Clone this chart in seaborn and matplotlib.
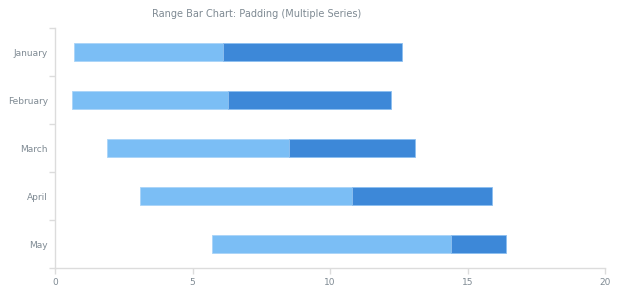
import matplotlib
matplotlib.use("Agg")
import matplotlib.pyplot as plt
import seaborn as sns
import pandas as pd
import numpy as np

months = ["January", "February", "March", "April", "May"]
s1_low = [0.7, 0.6, 1.9, 3.1, 5.7]
s1_high = [6.1, 6.3, 8.5, 10.8, 14.4]
s2_low = [6.1, 6.3, 8.5, 10.8, 14.4]
s2_high = [12.6, 12.2, 13.1, 15.9, 16.4]
x_ticks = [0, 5, 10, 15, 20]
title = "Range Bar Chart: Padding (Multiple Series)"

light = "#7bbef5"
dark = "#3d88d8"
text_c = "#7f8a93"
axis_c = "#dcdcdc"

sns.set_theme(style="white")
plt.rcParams["font.family"] = ["DejaVu Sans"]

fig = plt.figure(figsize=(6.2, 3.0), dpi=100)
ax = fig.add_axes([55 / 620, 32 / 300, 550 / 620, 240 / 300])

df1 = pd.DataFrame({"month": months, "span": np.array(s1_high) - np.array(s1_low)})
df2 = pd.DataFrame({"month": months, "span": np.array(s2_high) - np.array(s2_low)})

sns.barplot(data=df1, y="month", x="span", order=months, orient="h", ax=ax,
            color=light, saturation=1, width=0.36, left=s1_low,
            edgecolor="#a9d4f8", linewidth=0.6, errorbar=None)
sns.barplot(data=df2, y="month", x="span", order=months, orient="h", ax=ax,
            color=dark, saturation=1, width=0.36, left=s2_low,
            edgecolor="#8cbff0", linewidth=0.6, errorbar=None)

ax.set_xlim(0, 20)
ax.set_ylim(4.5, -0.5)
ax.set_xticks(x_ticks)
ax.set_xticklabels([str(t) for t in x_ticks])
ax.set_yticks(range(len(months)))
ax.set_yticklabels(months)
ax.set_yticks(np.arange(-0.5, len(months)), minor=True)
ax.set_xlabel("")
ax.set_ylabel("")

for s in ["top", "right"]:
    ax.spines[s].set_visible(False)
for s in ["left", "bottom"]:
    ax.spines[s].set_color(axis_c)
    ax.spines[s].set_linewidth(1.0)

ax.tick_params(axis="x", which="major", length=4, width=1, color=axis_c,
               labelcolor=text_c, labelsize=6.5, pad=3, bottom=True)
ax.tick_params(axis="y", which="major", length=0, labelcolor=text_c,
               labelsize=6.5, pad=5, left=False)
ax.tick_params(axis="y", which="minor", length=4, width=1, color=axis_c, left=True)
ax.grid(False)

fig.text(257 / 620, 1 - 14 / 300, title, ha="center", va="center",
         color=text_c, fontsize=7.0)

fig.savefig("out.png", dpi=100, facecolor="white")
